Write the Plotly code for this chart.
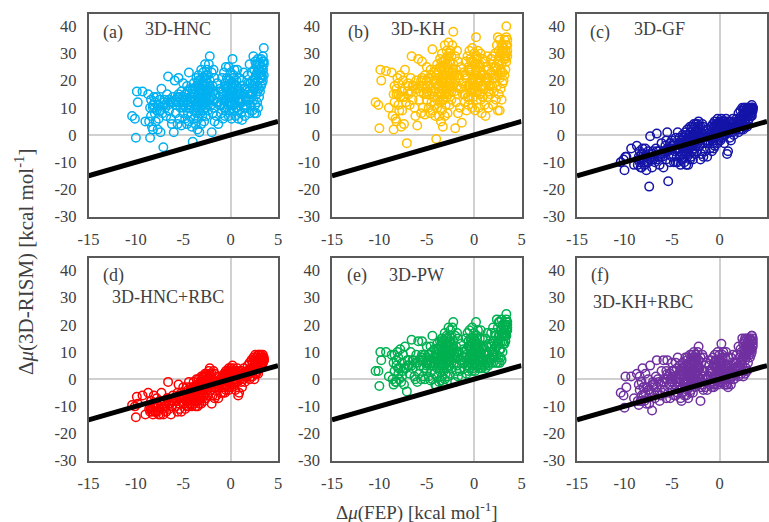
import plotly.graph_objects as go

W, H = 769, 522
parity_x = [-15, 5]
parity_y = [-15, 5]
x_ticks = [-15, -10, -5, 0, 5]
x_tick_labels = ["-15", "-10", "-5", "0", "5"]
y_ticks = [-30, -20, -10, 0, 10, 20, 30, 40]
y_tick_labels = ["-30", "-20", "-10", "0", "10", "20", "30", "40"]

fep = [
-10.4,-10.1,-10.0,-9.9,-9.8,-9.3,-9.0,-8.7,-8.6,-8.5,
-8.5,-8.4,-8.4,-8.3,-8.2,-8.2,-8.1,-8.0,-8.0,-7.9,
-7.8,-7.7,-7.6,-7.6,-7.5,-7.4,-7.3,-7.2,-7.1,-7.0,
-6.9,-6.8,-6.7,-6.6,-6.5,-6.4,-6.3,-6.2,-6.1,-6.0,
-5.9,-5.8,-5.7,-5.6,-5.6,-5.5,-5.4,-5.3,-5.2,-5.2,
-5.1,-5.0,-5.0,-4.9,-4.8,-4.8,-4.7,-4.6,-4.6,-4.5,
-4.5,-4.4,-4.4,-4.3,-4.3,-4.2,-4.2,-4.1,-4.1,-4.0,
-4.0,-3.9,-3.9,-3.9,-3.8,-3.8,-3.7,-3.7,-3.6,-3.6,
-3.5,-3.5,-3.5,-3.4,-3.4,-3.4,-3.3,-3.3,-3.3,-3.2,
-3.2,-3.2,-3.1,-3.1,-3.1,-3.0,-3.0,-3.0,-3.0,-2.9,
-2.9,-2.9,-2.8,-2.8,-2.8,-2.7,-2.7,-2.7,-2.6,-2.6,
-2.6,-2.5,-2.5,-2.5,-2.4,-2.4,-2.3,-2.3,-2.2,-2.2,
-2.1,-2.1,-2.0,-2.0,-1.9,-1.9,-1.8,-1.8,-1.7,-1.7,
-1.6,-1.5,-1.4,-1.3,-1.2,-1.1,-1.0,-0.9,-0.9,-0.8,
-0.8,-0.7,-0.7,-0.6,-0.6,-0.5,-0.5,-0.5,-0.4,-0.4,
-0.3,-0.3,-0.2,-0.2,-0.2,-0.1,-0.1,0.0,0.0,0.0,
0.1,0.1,0.2,0.2,0.3,0.3,0.3,0.4,0.4,0.5,
0.5,0.6,0.6,0.7,0.7,0.8,0.8,0.9,0.9,1.0,
1.0,1.1,1.2,1.2,1.3,1.4,1.4,1.5,1.5,1.6,
1.7,1.8,1.8,1.9,2.0,2.0,2.1,2.1,2.2,2.2,
2.3,2.3,2.4,2.4,2.5,2.5,2.5,2.6,2.6,2.6,
2.7,2.7,2.7,2.8,2.8,2.8,2.9,2.9,2.9,3.0,
3.0,3.0,3.1,3.1,3.1,3.2,3.2,3.2,3.3,3.3,
3.3,3.4,3.4,3.4,3.5,3.5,3.4,3.5,3.4,3.5,
-3.4,-3.2,-3.0,-2.8,-2.6,-2.4,-3.3,-3.1,-2.9,-2.7,
-2.5,-3.5,-3.3,-3.1,-2.9,-2.7,-2.5,-3.6,-2.3,-2.2,
-0.4,-0.2,0.0,0.2,0.4,0.6,-0.3,-0.1,0.1,0.3,
0.5,0.7,-0.5,-0.2,0.0,0.2,0.4,0.8,-0.6,0.6,
-6.0,-5.5,-5.0,-4.5,-7.5,-7.0,-6.5,-8.0,-4.0,-4.2,
1.2,1.6,2.0,2.4,2.8,3.2,1.4,1.8,2.6,3.0,
-5.5,-5.0,-4.5,-4.0,-3.8,-3.6,-3.4,-3.2,-3.0,-2.8,
-2.6,-2.4,-2.2,-2.0,-1.8,-1.5,-1.2,-1.0,-0.8,-0.6,
-0.5,-0.3,-0.1,0.1,0.3,0.5,0.7,0.9,1.1,1.3,
1.5,1.7,1.9,2.1,2.3,2.5,2.7,2.9,3.1,3.3,
-8.2,-7.8,-7.4,-7.0,-6.6,-6.2,-5.8,-5.4,-5.0,-4.6,
-4.2,-3.8,-3.4,-3.0,-2.6,-2.2,-1.8,-1.4,-1.0,-0.6,
]

hnc = [
7,6,-1,16,12,16,5,15,5,-1,
10,13,7,3,11,2,14,8,12,5,
14,2,11,6,13,1,17,8,-4.5,12,
10,7,15,21.5,9,12,6,4,14,1,
20,8,11,14,4,21,6,10,16,3.5,
12,19,8,13,6,15,10,4,18,12,
8,23,5,14,10,17,7,12,3,-2.5,
15,9,19,6,13,17,4,11,21,8,
14,2,18,10,6,22,16,12,1,20,
8,13,24,4,17,11,19,7,15,23,
9,14,21,5,12,26,17,10,22,7,
15,19,12,24,9,17,26,13,29,20,
11,16,1,23,8,18,13,24,5,21,
15,7,19,4,11,17,8,21,13,6,
16,10,23,7,19,13,25,9,16,21,
11,18,25,7,14,20,9,23,16,12,
6,19,28,14,9,22,17,11,24,7,
15,20,10,13,24,6,17,9,21,12,
16,8,20,5.5,13,23,10,17,7,14,
10,22,17,13,8,26,19,11,23,15,
9,20,29,13,8,24,17,11,27,21,
8,15,26,12,23,18,10,28,20,14,
24,17,16,26,21,18,28,23,19,25,
21,24,27,20,26,22,29,32,24,27,
13,15,12,16,14,11,18,10,14,17,
13,11,9,16,18,12,15,10,16,13,
12,14,11,16,13,10,17,15,12,19,
15,9,17,12,19,11,14,16,10,18,
12,12,11,11,9,11,13,10,13,11,
12,11,15,17,16,22,15,19,19,26,
15,14,16,17,15,18,20,16,21,19,
20,22,17,14,16,12,14,11,15,18,
18,20,14,19,21,15,16,13,15,18,
11,13,16,15,18,20,22,24,23,22,
10,9,9,13,11,12,13,14,10,13,
14,13,15,13,14,18,10,12,16,13,
]

kh = [
12,11,2.5,24,20,23.5,10,23,7,2,
15,18,12,6,17,5,21,11,19,9,
22,3,16,9,20,4,24,12,-3,18,
15,11,21,29,13,18,10,7,20,3.5,
28,13,16,20,8,27,10,15,22,7.5,
17,25,13,18,10,21,15,8,24,17,
12,31.5,9,20,14,23,11,17,7,-1.5,
22,13,26,10,18,23,7,16,28,12,
20,5,25,15,9,30,22,17,3,27,
13,19,33,7,24,16,26,11,21,31,
14,20,29,8,17,34,23,15,30,11,
21,27,17,31,13,23,33,18,38,26,
16,22,2.5,29,12,24,18,31,8,27,
21,10,25,4.5,15,23,12,27,18,9,
22,14,29,11,25,18,31,13,23,28,
16,24,32,10,20,27,14,30,22,17,
9,26,36,20,13,29,24,16,31,10,
21,26,15,18,30,8,23,14,28,17,
22,11,27,7,19,29,14,24,10,20,
15,28,23,18,11,29,25,16,30,21,
13,25,33,18,9,36,22,15,31,27,
9,21,35,17,30,24,13,33,26,19,
31,23,20,32,28,22,35,29,24,31,
28,33,36,27,31,29,40,33,30,35,
19,21,17,22,20,16,25,15,20,24,
18,15,13,22,25,18,21,14,22,19,
17,20,16,23,19,15,24,21,18,26,
21,13,24,17,26,16,20,22,14,25,
17,18,16,16,14,16,18,15,19,16,
18,16,21,24,23,29,21,26,26,33,
21,20,22,24,21,25,27,22,28,26,
27,29,23,20,22,17,19,15,21,24,
24,27,20,26,28,21,22,18,21,25,
16,18,22,21,25,27,29,31,30,29,
15,14,14,19,16,17,18,20,15,18,
20,18,21,18,20,24,15,17,22,18,
]

gf = [
-10,-9,-13,-8,-8,-5,-11,-4,-11,-9,
-8,-6,-10,-12,-7,-12,-5,-10,-7,-11,
-5,-13,-8,-10,-6,-19,-0.5,-9,-12,-6,
-8,-10,-5,0.5,-9,-6,-11,-8,-3,-8,
-12,-6,-4,-2,-9,1,-17,-5,-3,-10,
-5,-2,-8,-4,-10,-3,-6,-10,-1,-5,
-8,1,-10,-3,-6,-1,-8,-4,-11,-9,
-2,-7,0,-9,-4,-1,-10,-5,1,-7,
-3,-11,0,-5,-8,2,-2,-4,-11,0,
-7,-3,3,-9,-1,-4,1,-8,-2,3,
-6,-2,2,-9,-4,4,0,-5,3,-7,
-2,1,-4,4,-6,0,4,-3,5,2,
-4,0,-9,3,-7,1,-3,4,-8,3,
0,-6,2,-8,-3,1,-5,3,-1,-6,
1,-3,4,-5,3,-1,5,-4,2,4,
0,3,6,-3,1,4,-2,5,2,-1,
-2,4,6,2,-1,5,3,0,5,-3,
2,5,0,1,6,-7,3,-6,5,1,
3,-1,5,-2,2,6,1,4,0,3,
2,6,4,3,1,8,6,2,9,5,
2,7,10,4,2,9,6,3,10,8,
3,6,10,4,9,7,3,10,8,5,
10,7,6,10,9,7,10,9,7,10,
8,10,9,7,10,9,11,10,8,10,
-3,-2,-4,-1,-1,-2,-1,-3,-1,0,
0,-5,-6,-1,0,-1,1,-4,1,3,
1,3,3,4,3,2,4,3,3,5,
4,1,3,1,4,1,3,3,-1,4,
-7,-6,-4,-5,-10,-9,-8,-9,-4,-5,
2,3,4,5,7,9,3,5,8,8,
-5,-4,-5,-3,-3,-2,-2,-1,-2,-1,
0,1,-1,-2,-1,-3,-2,-1,1,0,
3,2,1,2,4,1,2,2,2,3,
3,2,4,5,6,7,8,8,9,9,
-9,-8,-7,-7,-6,-7,-6,-6,-5,-5,
-3,-4,-3,-3,-1,0,-1,-2,0,-1,
]

hnc_rbc = [
-9.5,-10,-14,-6.5,-9,-6,-13,-5,-11,-12,
-10,-8,-11,-12,-9,-13,-6,-12,-9,-12,
-7,-12,-10,-13,-8,-13,-5,-11,-13,-8,
-10,-12,-7,-1,-11,-9,-13,-10,-6,-8,
-7,-10,-8,-5,-12,-2,-11,-7,-5,-12,
-6,-3,-9,-6,-11,-5,-8,-10,-3,-7,
-9,-1,-10,-5,-7,-3,-9,-6,-10,-7,
-3,-8,-1,-9,-5,-3,-10,-6,0,-8,
-4,-10,-2,-6,-8,0,-3,-5,-9,-1,
-7,-4,1,-9,-2,-5,0,-7,-3,1,
-6,-3,1,-8,-4,2,-1,-5,1,-7,
-2,0,-4,2,-6,-1,3,-3,4,1,
-4,-1,-9,2,-6,0,-3,3,-7,2,
-1,-6,1,-7,-3,0,-5,1,-2,-5,
0,-3,2,-5,1,-2,3,-4,0,2,
-1,1,4,-4,0,3,-3,4,1,-2,
-3,2,5,1,-2,4,2,-1,3,-4,
1,3,-1,0,4,-6,2,-5,3,0,
1,-1,3,-3,1,4,0,2,-1,2,
1,5,3,2,0,6,4,1,7,3,
1,6,8,3,0,7,4,2,9,6,
2,4,8,3,7,5,2,9,6,4,
9,6,5,8,7,5,9,7,5,8,
6,8,9,6,8,7,8,7,6,7,
-5,-4,-5,-2,-2,-3,-2,-4,-2,-1,
-1,-6,-7,-2,-1,-2,0,-5,0,2,
0,1,1,3,2,0,3,2,1,3,
3,-1,2,-1,3,-1,2,1,-3,2,
-8,-7,-6,-8,-11,-10,-9,-10,-6,-6,
1,1,2,4,5,7,1,3,6,7,
-6,-6,-4,-4,-4,-3,-3,-2,-4,-2,
-2,0,-2,-2,-1,-3,-2,-1,0,0,
1,2,0,1,3,0,1,1,1,2,
2,1,3,3,4,5,6,6,7,7,
-10,-9,-9,-8,-7,-8,-7,-7,-6,-6,
-4,-5,-4,-4,-2,-1,-2,-2,-1,-2,
]

pw = [
3,3,-2.5,10,7,10,1,9,0,-2,
6,9,3,-1,7,-1,10,2,8,0,
11,-1,6,1,9,-2,12,4,-4.5,7,
5,2,10,14.5,4,7,1,0,9,-1,
14,2,5,8,0,14,1,4,9,0,
6,12,3,7,1,9,5,-0.5,12,6,
3,16,0,8,5,11,2,6,-2,-2.5,
9,4,13,1,7,11,-1,6,14,3,
8,-0.5,12,5,1,15,10,6,-2,14,
3,8,17,0,11,6,13,2,9,16,
4,9,15,1,7,19,12,5,16,2,
10,13,7,18,4,12,19,8,21,14,
6,10,-1,16,3,12,8,17,1,15,
10,3,13,1,6,11,4,15,8,2,
11,5,17,3,14,8,18,4,11,15,
7,13,19,3,9,15,4,17,11,8,
3,14,21,10,5,16,12,7,18,4,
10,15,6,8,18,4,12,5,15,7,
12,5,15,4,9,17,7,13,5,10,
7,17,12,9,6,19,14,8,17,11,
6,16,22,9,6,19,13,8,21,16,
6,11,21,8,18,14,7,22,16,10,
20,14,13,19,17,13,20,18,14,20,
17,21,22,16,19,18,24,21,18,20,
8,10,7,11,9,6,13,5,9,12,
8,6,4,11,13,7,10,5,11,9,
6,9,6,11,8,5,12,10,7,13,
10,4,12,7,14,6,9,11,5,12,
6,7,6,6,3,5,7,4,7,6,
7,6,10,12,11,16,9,13,14,17,
9,8,10,11,9,12,14,10,15,13,
14,16,11,8,10,7,8,6,9,12,
12,14,8,13,15,9,10,7,9,12,
6,8,10,9,12,14,16,18,17,16,
5,4,4,7,5,6,7,8,5,7,
8,7,9,8,8,12,5,7,10,7,
]

kh_rbc = [
-5,-6,-10.5,1,-3,1,-7,2,-8,-9.5,
-2,1,-4,-8,-1,-8,4,-6,-3,-8,
2,-9,-3,-7,0,-9,5,-5,-11.5,-1,
-3,-7,1,7,-5,-1,-8,-6,3,-5,
7,-4,0,3,-7,7,-5,-2,2,-7,
0,6,-4,1,-6,3,-2,-6,6,0,
-3,8,-5,2,-1,5,-4,0,-7,-8,
3,-3,6,-5,0,4,-6,-1,8,-3,
2,-6,5,-1,-4,8,3,0,-7,6,
-3,1,9,-5,4,-1,6,-4,2,9,
-2,2,8,-5,0,10,5,-1,8,-3,
3,6,0,9,-2,5,10,1,12,7,
0,4,-8,8,-3,6,1,9,-4,8,
3,-3,6,-4,0,5,-2,7,1,-3,
4,-1,8,-3,6,1,9,-2,4,7,
1,5,10,-2,3,7,-1,9,4,1,
-1,7,13,4,0,9,6,2,10,-2,
4,8,1,2,10,-2,5,-3,8,2,
5,0,8,-2,3,9,1,6,0,4,
3,9,6,4,1,12,8,3,11,6,
2,10,15,5,1,13,8,3,14,11,
2,7,15,4,12,9,3,15,11,6,
14,10,9,15,12,8,15,13,9,14,
11,14,16,10,15,12,16,14,11,13,
1,2,0,3,2,-1,5,-2,2,4,
1,-1,-3,3,5,0,2,-2,4,1,
0,2,0,4,1,-1,5,3,1,6,
3,-2,5,0,6,-1,2,4,-2,5,
-1,0,-1,-1,-4,-2,0,-3,1,-1,
1,2,5,7,8,12,4,6,9,11,
2,3,4,4,3,5,7,3,7,6,
7,8,4,2,3,0,1,-1,3,5,
5,7,2,6,8,2,3,0,2,5,
0,2,4,4,7,8,10,12,11,11,
-6,-5,-4,-2,-3,-2,-1,1,-1,1,
2,1,3,1,2,5,-2,0,3,1,
]

FONT = "Liberation Serif"
INK = "#404040"

panels = [
    (hnc,     "#00B0F0", (88.5, 278.0), (13.5, 216.5),   "(a)", (113, 33),  "3D-HNC",     (178, 29)),
    (kh,      "#FFC000", (332.0, 521.5), (13.5, 216.5),  "(b)", (358, 33),  "3D-KH",      (418, 29)),
    (gf,      "#1414A8", (577.0, 767.0), (13.5, 216.5),  "(c)", (600, 33),  "3D-GF",      (659, 29)),
    (hnc_rbc, "#FF0000", (88.5, 278.0), (257.7, 460.7),  "(d)", (113, 275), "3D-HNC+RBC", (168, 297)),
    (pw,      "#00B050", (332.0, 521.5), (257.7, 460.7), "(e)", (357, 275), "3D-PW",      (416, 275)),
    (kh_rbc,  "#7030A0", (577.0, 767.0), (257.7, 460.7), "(f)", (600, 275), "3D-KH+RBC",  (643, 302)),
]

def px(v):
    return v / W

def py(v):
    return 1 - v / H

fig = go.Figure()
annotations = []
layout_axes = {}

for i, (vals, color, xr, yr, tag, tag_pos, name, name_pos) in enumerate(panels, start=1):
    suffix = "" if i == 1 else str(i)
    xa, ya = "x" + suffix, "y" + suffix
    fig.add_trace(go.Scatter(
        x=fep, y=vals, xaxis=xa, yaxis=ya, mode="markers", showlegend=False,
        marker=dict(symbol="circle-open", size=8.5, color=color, line=dict(width=1.5, color=color)),
    ))
    fig.add_trace(go.Scatter(
        x=parity_x, y=parity_y, xaxis=xa, yaxis=ya, mode="lines", showlegend=False,
        line=dict(color="black", width=5),
    ))
    common = dict(
        showgrid=False, zeroline=True, zerolinecolor="#d0d0d0", zerolinewidth=1.5,
        showline=True, mirror=True, linecolor="#595959", linewidth=1.6,
        ticks="", ticklabelstandoff=7, automargin=False,
        tickfont=dict(family=FONT, size=16.5, color=INK),
    )
    layout_axes["xaxis" + suffix] = dict(
        domain=[px(xr[0]), px(xr[1])], range=[-15, 5],
        tickmode="array", tickvals=x_ticks, ticktext=x_tick_labels, anchor=ya, **common)
    layout_axes["yaxis" + suffix] = dict(
        domain=[py(yr[1]), py(yr[0])], range=[-30, 44.7],
        tickmode="array", tickvals=y_ticks, ticktext=y_tick_labels, anchor=xa, **common)
    for text, pos in ((tag, tag_pos), (name, name_pos)):
        annotations.append(dict(
            text=text, x=px(pos[0]), y=py(pos[1]), xref="paper", yref="paper",
            xanchor="center", yanchor="middle", showarrow=False,
            font=dict(family=FONT, size=18, color=INK),
        ))

annotations.append(dict(
    text="Δ<i>μ</i>(3D-RISM) [kcal mol<sup>-1</sup>]", x=px(24), y=py(262), xref="paper", yref="paper",
    textangle=-90, xanchor="center", yanchor="middle", showarrow=False,
    font=dict(family=FONT, size=21, color=INK),
))
annotations.append(dict(
    text="Δ<i>μ</i>(FEP) [kcal mol<sup>-1</sup>]", x=px(417), y=py(511), xref="paper", yref="paper",
    xanchor="center", yanchor="middle", showarrow=False,
    font=dict(family=FONT, size=19, color=INK),
))

fig.update_layout(
    width=W, height=H, margin=dict(l=0, r=0, t=0, b=0, autoexpand=False),
    paper_bgcolor="white", plot_bgcolor="white",
    showlegend=False, annotations=annotations, **layout_axes,
)

fig.write_html("out.html", config={"displayModeBar": False},
               post_script="document.body.style.margin='0';document.body.style.overflow='hidden';")
